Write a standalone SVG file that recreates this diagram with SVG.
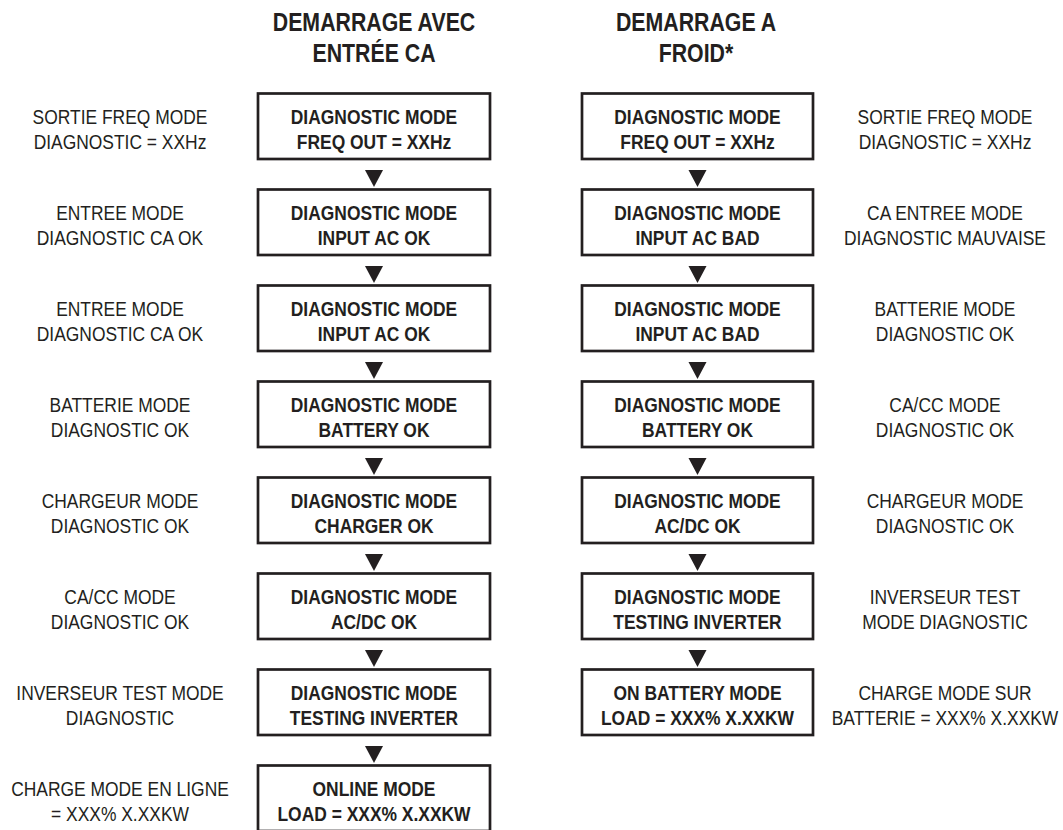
<svg xmlns="http://www.w3.org/2000/svg" width="1063" height="830" viewBox="0 0 1063 830">
<style>
.bg{fill:#fff}
.box{fill:#fff;stroke:#231f20;stroke-width:2.7}
.bt{font-family:"Liberation Sans",Arial,sans-serif;font-weight:bold;font-size:21px;fill:#231f20;text-anchor:middle}
.lt{font-family:"Liberation Sans",Arial,sans-serif;font-size:21px;fill:#231f20;text-anchor:middle}
.ht{font-family:"Liberation Sans",Arial,sans-serif;font-weight:bold;font-size:26px;fill:#231f20;text-anchor:middle}
.arr{fill:#231f20}
</style>
<rect class="bg" x="0" y="0" width="1063" height="830"/>

<g id="headers">
  <g transform="translate(374,0) scale(0.82,1)">
    <text class="ht" x="0" y="31">DEMARRAGE AVEC</text>
    <text class="ht" x="0" y="62">ENTRÉE CA</text>
  </g>
  <g transform="translate(696,0) scale(0.82,1)">
    <text class="ht" x="0" y="31">DEMARRAGE A</text>
    <text class="ht" x="0" y="62">FROID*</text>
  </g>
</g>

<g id="connectors">
  <polygon class="arr" points="365,170 383,170 374,187"/>
  <polygon class="arr" points="365,266 383,266 374,283"/>
  <polygon class="arr" points="365,362 383,362 374,379"/>
  <polygon class="arr" points="365,458 383,458 374,475"/>
  <polygon class="arr" points="365,554 383,554 374,571"/>
  <polygon class="arr" points="365,650 383,650 374,667"/>
  <polygon class="arr" points="365,746 383,746 374,763"/>
  <polygon class="arr" points="688.5,170 706.5,170 697.5,187"/>
  <polygon class="arr" points="688.5,266 706.5,266 697.5,283"/>
  <polygon class="arr" points="688.5,362 706.5,362 697.5,379"/>
  <polygon class="arr" points="688.5,458 706.5,458 697.5,475"/>
  <polygon class="arr" points="688.5,554 706.5,554 697.5,571"/>
  <polygon class="arr" points="688.5,650 706.5,650 697.5,667"/>
</g>

<g id="L1"><rect class="box" x="258" y="93.5" width="232" height="65.5"/>
  <g transform="translate(374,0) scale(0.83,1)"><text class="bt" x="0" y="124.5">DIAGNOSTIC MODE</text><text class="bt" x="0" y="149">FREQ OUT = XXHz</text></g></g>
<g id="L2"><rect class="box" x="258" y="189.5" width="232" height="65.5"/>
  <g transform="translate(374,0) scale(0.83,1)"><text class="bt" x="0" y="220.5">DIAGNOSTIC MODE</text><text class="bt" x="0" y="245">INPUT AC OK</text></g></g>
<g id="L3"><rect class="box" x="258" y="285.5" width="232" height="65.5"/>
  <g transform="translate(374,0) scale(0.83,1)"><text class="bt" x="0" y="316.5">DIAGNOSTIC MODE</text><text class="bt" x="0" y="341">INPUT AC OK</text></g></g>
<g id="L4"><rect class="box" x="258" y="381.5" width="232" height="65.5"/>
  <g transform="translate(374,0) scale(0.83,1)"><text class="bt" x="0" y="412.5">DIAGNOSTIC MODE</text><text class="bt" x="0" y="437">BATTERY OK</text></g></g>
<g id="L5"><rect class="box" x="258" y="477.5" width="232" height="65.5"/>
  <g transform="translate(374,0) scale(0.83,1)"><text class="bt" x="0" y="508.5">DIAGNOSTIC MODE</text><text class="bt" x="0" y="533">CHARGER OK</text></g></g>
<g id="L6"><rect class="box" x="258" y="573.5" width="232" height="65.5"/>
  <g transform="translate(374,0) scale(0.83,1)"><text class="bt" x="0" y="604.5">DIAGNOSTIC MODE</text><text class="bt" x="0" y="629">AC/DC OK</text></g></g>
<g id="L7"><rect class="box" x="258" y="669.5" width="232" height="65.5"/>
  <g transform="translate(374,0) scale(0.83,1)"><text class="bt" x="0" y="700.5">DIAGNOSTIC MODE</text><text class="bt" x="0" y="725">TESTING INVERTER</text></g></g>
<g id="L8"><rect class="box" x="258" y="765.5" width="232" height="65.5"/>
  <g transform="translate(374,0) scale(0.83,1)"><text class="bt" x="0" y="796.5">ONLINE MODE</text><text class="bt" x="0" y="821">LOAD = XXX% X.XXKW</text></g></g>

<g id="R1"><rect class="box" x="582" y="93.5" width="231" height="65.5"/>
  <g transform="translate(697.5,0) scale(0.83,1)"><text class="bt" x="0" y="124.5">DIAGNOSTIC MODE</text><text class="bt" x="0" y="149">FREQ OUT = XXHz</text></g></g>
<g id="R2"><rect class="box" x="582" y="189.5" width="231" height="65.5"/>
  <g transform="translate(697.5,0) scale(0.83,1)"><text class="bt" x="0" y="220.5">DIAGNOSTIC MODE</text><text class="bt" x="0" y="245">INPUT AC BAD</text></g></g>
<g id="R3"><rect class="box" x="582" y="285.5" width="231" height="65.5"/>
  <g transform="translate(697.5,0) scale(0.83,1)"><text class="bt" x="0" y="316.5">DIAGNOSTIC MODE</text><text class="bt" x="0" y="341">INPUT AC BAD</text></g></g>
<g id="R4"><rect class="box" x="582" y="381.5" width="231" height="65.5"/>
  <g transform="translate(697.5,0) scale(0.83,1)"><text class="bt" x="0" y="412.5">DIAGNOSTIC MODE</text><text class="bt" x="0" y="437">BATTERY OK</text></g></g>
<g id="R5"><rect class="box" x="582" y="477.5" width="231" height="65.5"/>
  <g transform="translate(697.5,0) scale(0.83,1)"><text class="bt" x="0" y="508.5">DIAGNOSTIC MODE</text><text class="bt" x="0" y="533">AC/DC OK</text></g></g>
<g id="R6"><rect class="box" x="582" y="573.5" width="231" height="65.5"/>
  <g transform="translate(697.5,0) scale(0.83,1)"><text class="bt" x="0" y="604.5">DIAGNOSTIC MODE</text><text class="bt" x="0" y="629">TESTING INVERTER</text></g></g>
<g id="R7"><rect class="box" x="582" y="669.5" width="231" height="65.5"/>
  <g transform="translate(697.5,0) scale(0.83,1)"><text class="bt" x="0" y="700.5">ON BATTERY MODE</text><text class="bt" x="0" y="725">LOAD = XXX% X.XXKW</text></g></g>

<g id="left-labels" transform="translate(120,0) scale(0.83,1)">
  <text class="lt" x="0" y="124.5">SORTIE FREQ MODE</text><text class="lt" x="0" y="149">DIAGNOSTIC = XXHz</text>
  <text class="lt" x="0" y="220.5">ENTREE MODE</text><text class="lt" x="0" y="245">DIAGNOSTIC CA OK</text>
  <text class="lt" x="0" y="316.5">ENTREE MODE</text><text class="lt" x="0" y="341">DIAGNOSTIC CA OK</text>
  <text class="lt" x="0" y="412.5">BATTERIE MODE</text><text class="lt" x="0" y="437">DIAGNOSTIC OK</text>
  <text class="lt" x="0" y="508.5">CHARGEUR MODE</text><text class="lt" x="0" y="533">DIAGNOSTIC OK</text>
  <text class="lt" x="0" y="604.5">CA/CC MODE</text><text class="lt" x="0" y="629">DIAGNOSTIC OK</text>
  <text class="lt" x="0" y="700.5">INVERSEUR TEST MODE</text><text class="lt" x="0" y="725">DIAGNOSTIC</text>
  <text class="lt" x="0" y="796.5">CHARGE MODE EN LIGNE</text><text class="lt" x="0" y="821">= XXX% X.XXKW</text>
</g>

<g id="right-labels" transform="translate(945,0) scale(0.83,1)">
  <text class="lt" x="0" y="124.5">SORTIE FREQ MODE</text><text class="lt" x="0" y="149">DIAGNOSTIC = XXHz</text>
  <text class="lt" x="0" y="220.5">CA ENTREE MODE</text><text class="lt" x="0" y="245">DIAGNOSTIC MAUVAISE</text>
  <text class="lt" x="0" y="316.5">BATTERIE MODE</text><text class="lt" x="0" y="341">DIAGNOSTIC OK</text>
  <text class="lt" x="0" y="412.5">CA/CC MODE</text><text class="lt" x="0" y="437">DIAGNOSTIC OK</text>
  <text class="lt" x="0" y="508.5">CHARGEUR MODE</text><text class="lt" x="0" y="533">DIAGNOSTIC OK</text>
  <text class="lt" x="0" y="604.5">INVERSEUR TEST</text><text class="lt" x="0" y="629">MODE DIAGNOSTIC</text>
  <text class="lt" x="0" y="700.5">CHARGE MODE SUR</text><text class="lt" x="0" y="725">BATTERIE = XXX% X.XXKW</text>
</g>
</svg>
